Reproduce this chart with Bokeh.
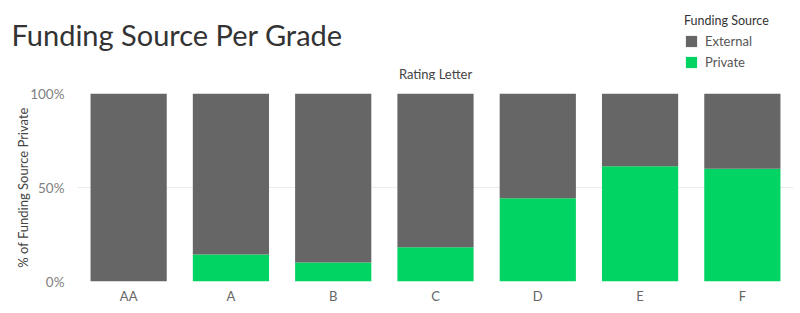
from bokeh.plotting import figure
from bokeh.layouts import column, row
from bokeh.models import (FactorRange, Range1d, Label, FixedTicker, PrintfTickFormatter,
                          Legend, LegendItem, ColumnDataSource)
from bokeh.embed import file_html
from bokeh.resources import INLINE

grades = ["AA", "A", "B", "C", "D", "E", "F"]
private = [0.0, 14.4, 10.1, 18.2, 44.3, 61.3, 60.0]
external = [100.0, 85.6, 89.9, 81.8, 55.7, 38.7, 40.0]
y_ticks = [0, 50, 100]

C_EXT = "#666666"
C_PRIV = "#02d463"
FONT = "Lato"
HEAD_H = 80
LEFT, RIGHT = 77, 7

src = ColumnDataSource(dict(grade=grades, Private=private, External=external))

# ---------- header: title, legend, top caption (frame = whole header) ----------
head = figure(width=800, height=HEAD_H, x_range=Range1d(0, 800),
              y_range=Range1d(HEAD_H, 0), output_backend="svg",
              toolbar_location=None, x_axis_location=None, y_axis_location=None,
              min_border_left=0, min_border_right=0,
              min_border_top=0, min_border_bottom=0)
head.grid.visible = False
head.outline_line_color = None

hr = head.vbar_stack(["Private", "External"], x=0, width=1, source=src,
                     color=[C_PRIV, C_EXT], line_color=None)
for r in hr:
    r.visible = False

head.add_layout(Label(x=11, y=34, text="Funding Source Per Grade", text_font=FONT,
                      text_font_size="29px", text_color="#333333",
                      text_baseline="alphabetic", text_align="left"))
head.add_layout(Label(x=435, y=73, text="Rating Letter", text_font=FONT,
                      text_font_size="13px", text_color="#444444",
                      text_baseline="middle", text_align="center"))

legend = Legend(items=[LegendItem(label="External", renderers=[hr[1]]),
                       LegendItem(label="Private", renderers=[hr[0]])],
                location=(684, HEAD_H - 70), title="Funding Source",
                title_text_font=FONT, title_text_font_size="12.5px",
                title_text_font_style="normal", title_text_color="#333333",
                title_standoff=5, label_text_font=FONT, label_text_font_size="13px",
                label_text_color="#555555", glyph_width=14, glyph_height=14,
                label_height=15, spacing=5, label_standoff=7, padding=0, margin=0,
                border_line_color=None, background_fill_alpha=0)
head.add_layout(legend)

# ---------- main chart ----------
p = figure(width=800, height=313 - HEAD_H, x_range=FactorRange(*grades, range_padding=0),
           y_range=Range1d(0, 100), output_backend="svg", toolbar_location=None,
           min_border_left=LEFT, min_border_right=RIGHT, min_border_top=93 - HEAD_H,
           min_border_bottom=32)
p.outline_line_color = None

p.vbar_stack(["Private", "External"], x="grade", width=0.745, source=src,
             color=[C_PRIV, C_EXT], line_color=None)

p.xaxis.axis_line_color = None
p.xaxis.major_tick_line_color = None
p.xaxis.minor_tick_line_color = None
p.xaxis.major_label_text_font = FONT
p.xaxis.major_label_text_font_size = "13px"
p.xaxis.major_label_text_color = "#666666"
p.xaxis.major_label_standoff = 0
p.xgrid.grid_line_color = None

p.yaxis.ticker = FixedTicker(ticks=y_ticks)
p.yaxis.formatter = PrintfTickFormatter(format="%d%%")
p.yaxis.axis_line_color = None
p.yaxis.major_tick_line_color = None
p.yaxis.minor_tick_line_color = None
p.yaxis.major_label_text_font = FONT
p.yaxis.major_label_text_font_size = "13.5px"
p.yaxis.major_label_text_color = "#808080"
p.yaxis.major_label_standoff = 7
p.yaxis.axis_label = "% of Funding Source Private"
p.yaxis.axis_label_text_font = FONT
p.yaxis.axis_label_text_font_style = "normal"
p.yaxis.axis_label_text_font_size = "13px"
p.yaxis.axis_label_text_color = "#444444"
p.yaxis.axis_label_standoff = -4
p.ygrid.grid_line_color = "#ececec"
p.ygrid.ticker = FixedTicker(ticks=y_ticks)

layout = column(row(head, spacing=0), p, spacing=0)
open("out.html", "w").write(file_html(layout, INLINE))
